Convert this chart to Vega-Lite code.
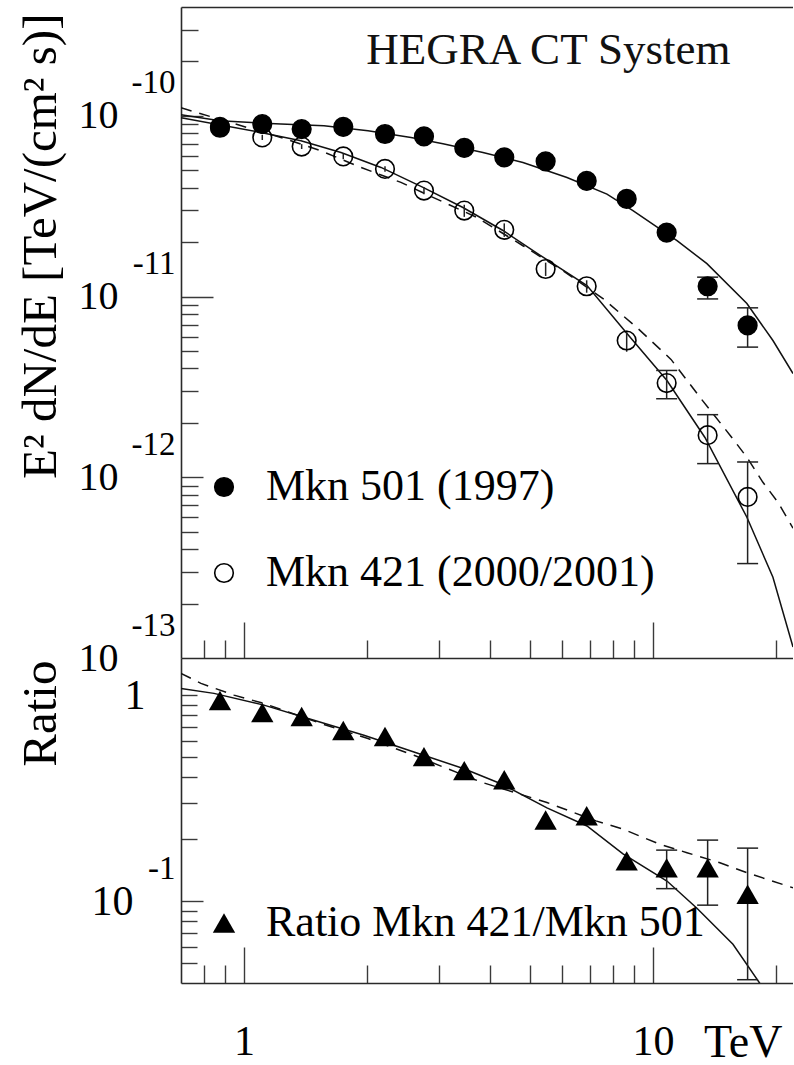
{
  "$schema": "https://vega.github.io/schema/vega-lite/v6.json",
  "background": "white",
  "padding": {"left": 16, "top": 7, "right": 0, "bottom": 0},
  "spacing": 0,
  "bounds": "flush",
  "config": {
    "view": {"stroke": null},
    "font": "Liberation Serif",
    "axis": {"grid": false, "domainColor": "#2a2a2a", "domainWidth": 1.6, "tickColor": "#3a3a3a", "tickWidth": 1.4, "labelFont": "Liberation Serif", "titleFont": "Liberation Serif", "labelColor": "#000", "titleColor": "#000", "titleFontWeight": "normal", "labelOverlap": false, "labelFlush": false, "labelBound": false, "labelLimit": 0},
    "legend": {"labelFont": "Liberation Serif", "labelColor": "#000", "labelLimit": 0}
  },
  "datasets": {
    "pts": [
      {"E": 0.8736, "series": "Mkn 421 (2000/2001)", "flux": 8.59e-11, "lo": 8.40e-11, "hi": 8.78e-11, "cap": false},
      {"E": 1.1086, "series": "Mkn 421 (2000/2001)", "flux": 7.59e-11, "lo": 7.35e-11, "hi": 7.83e-11, "cap": false},
      {"E": 1.3838, "series": "Mkn 421 (2000/2001)", "flux": 6.76e-11, "lo": 6.55e-11, "hi": 6.97e-11, "cap": false},
      {"E": 1.749, "series": "Mkn 421 (2000/2001)", "flux": 5.96e-11, "lo": 5.75e-11, "hi": 6.17e-11, "cap": false},
      {"E": 2.2122, "series": "Mkn 421 (2000/2001)", "flux": 5.08e-11, "lo": 4.90e-11, "hi": 5.26e-11, "cap": false},
      {"E": 2.7549, "series": "Mkn 421 (2000/2001)", "flux": 3.86e-11, "lo": 3.68e-11, "hi": 4.04e-11, "cap": false},
      {"E": 3.4566, "series": "Mkn 421 (2000/2001)", "flux": 2.99e-11, "lo": 2.76e-11, "hi": 3.22e-11, "cap": false},
      {"E": 4.3293, "series": "Mkn 421 (2000/2001)", "flux": 2.34e-11, "lo": 2.14e-11, "hi": 2.54e-11, "cap": false},
      {"E": 5.4653, "series": "Mkn 421 (2000/2001)", "flux": 1.42e-11, "lo": 1.30e-11, "hi": 1.54e-11, "cap": false},
      {"E": 6.8855, "series": "Mkn 421 (2000/2001)", "flux": 1.14e-11, "lo": 1.05e-11, "hi": 1.23e-11, "cap": false},
      {"E": 8.6249, "series": "Mkn 421 (2000/2001)", "flux": 5.71e-12, "lo": 4.95e-12, "hi": 6.47e-12, "cap": false},
      {"E": 10.802, "series": "Mkn 421 (2000/2001)", "flux": 3.32e-12, "lo": 2.72e-12, "hi": 3.90e-12, "cap": true},
      {"E": 13.605, "series": "Mkn 421 (2000/2001)", "flux": 1.71e-12, "lo": 1.19e-12, "hi": 2.22e-12, "cap": true},
      {"E": 17.039, "series": "Mkn 421 (2000/2001)", "flux": 7.78e-13, "lo": 3.33e-13, "hi": 1.215e-12, "cap": true},
      {"E": 0.8736, "series": "Mkn 501 (1997)", "flux": 8.69e-11, "lo": 8.54e-11, "hi": 8.84e-11, "cap": false},
      {"E": 1.1086, "series": "Mkn 501 (1997)", "flux": 9.0e-11, "lo": 8.85e-11, "hi": 9.15e-11, "cap": false},
      {"E": 1.3838, "series": "Mkn 501 (1997)", "flux": 8.45e-11, "lo": 8.30e-11, "hi": 8.60e-11, "cap": false},
      {"E": 1.749, "series": "Mkn 501 (1997)", "flux": 8.69e-11, "lo": 8.54e-11, "hi": 8.84e-11, "cap": false},
      {"E": 2.2122, "series": "Mkn 501 (1997)", "flux": 7.93e-11, "lo": 7.78e-11, "hi": 8.08e-11, "cap": false},
      {"E": 2.7549, "series": "Mkn 501 (1997)", "flux": 7.69e-11, "lo": 7.54e-11, "hi": 7.84e-11, "cap": false},
      {"E": 3.4566, "series": "Mkn 501 (1997)", "flux": 6.64e-11, "lo": 6.50e-11, "hi": 6.78e-11, "cap": false},
      {"E": 4.3293, "series": "Mkn 501 (1997)", "flux": 5.89e-11, "lo": 5.75e-11, "hi": 6.03e-11, "cap": false},
      {"E": 5.4653, "series": "Mkn 501 (1997)", "flux": 5.60e-11, "lo": 5.45e-11, "hi": 5.75e-11, "cap": false},
      {"E": 6.8855, "series": "Mkn 501 (1997)", "flux": 4.36e-11, "lo": 4.22e-11, "hi": 4.50e-11, "cap": false},
      {"E": 8.6249, "series": "Mkn 501 (1997)", "flux": 3.47e-11, "lo": 3.33e-11, "hi": 3.61e-11, "cap": false},
      {"E": 10.802, "series": "Mkn 501 (1997)", "flux": 2.26e-11, "lo": 2.14e-11, "hi": 2.38e-11, "cap": false},
      {"E": 13.605, "series": "Mkn 501 (1997)", "flux": 1.14e-11, "lo": 9.7e-12, "hi": 1.28e-11, "cap": true},
      {"E": 17.039, "series": "Mkn 501 (1997)", "flux": 6.92e-12, "lo": 5.25e-12, "hi": 8.66e-12, "cap": true}
    ],
    "fit": [
      {"E": 0.7015, "flux": 1.013e-10, "curve": "Mkn 501 fit"},
      {"E": 0.8736, "flux": 9.38e-11, "curve": "Mkn 501 fit"},
      {"E": 1.231, "flux": 9.0e-11, "curve": "Mkn 501 fit"},
      {"E": 1.569, "flux": 8.81e-11, "curve": "Mkn 501 fit"},
      {"E": 2.010, "flux": 8.26e-11, "curve": "Mkn 501 fit"},
      {"E": 2.561, "flux": 7.59e-11, "curve": "Mkn 501 fit"},
      {"E": 3.066, "flux": 7.00e-11, "curve": "Mkn 501 fit"},
      {"E": 3.840, "flux": 6.27e-11, "curve": "Mkn 501 fit"},
      {"E": 4.810, "flux": 5.52e-11, "curve": "Mkn 501 fit"},
      {"E": 6.163, "flux": 4.56e-11, "curve": "Mkn 501 fit"},
      {"E": 7.718, "flux": 3.69e-11, "curve": "Mkn 501 fit"},
      {"E": 8.934, "flux": 2.99e-11, "curve": "Mkn 501 fit"},
      {"E": 11.45, "flux": 2.04e-11, "curve": "Mkn 501 fit"},
      {"E": 13.55, "flux": 1.52e-11, "curve": "Mkn 501 fit"},
      {"E": 16.97, "flux": 9.15e-12, "curve": "Mkn 501 fit"},
      {"E": 19.65, "flux": 5.71e-12, "curve": "Mkn 501 fit"},
      {"E": 22.0, "flux": 3.75e-12, "curve": "Mkn 501 fit"},
      {"E": 0.7015, "flux": 9.75e-11, "curve": "Mkn 421 fit"},
      {"E": 1.100, "flux": 8.09e-11, "curve": "Mkn 421 fit"},
      {"E": 1.378, "flux": 7.28e-11, "curve": "Mkn 421 fit"},
      {"E": 1.727, "flux": 6.27e-11, "curve": "Mkn 421 fit"},
      {"E": 2.163, "flux": 5.18e-11, "curve": "Mkn 421 fit"},
      {"E": 2.740, "flux": 4.02e-11, "curve": "Mkn 421 fit"},
      {"E": 3.431, "flux": 3.11e-11, "curve": "Mkn 421 fit"},
      {"E": 4.298, "flux": 2.32e-11, "curve": "Mkn 421 fit"},
      {"E": 5.384, "flux": 1.65e-11, "curve": "Mkn 421 fit"},
      {"E": 6.898, "flux": 1.15e-11, "curve": "Mkn 421 fit"},
      {"E": 8.639, "flux": 6.25e-12, "curve": "Mkn 421 fit"},
      {"E": 10.82, "flux": 3.43e-12, "curve": "Mkn 421 fit"},
      {"E": 13.40, "flux": 1.66e-12, "curve": "Mkn 421 fit"},
      {"E": 16.97, "flux": 6.01e-13, "curve": "Mkn 421 fit"},
      {"E": 19.65, "flux": 2.80e-13, "curve": "Mkn 421 fit"},
      {"E": 22.0, "flux": 1.15e-13, "curve": "Mkn 421 fit"},
      {"E": 0.7015, "flux": 1.107e-10, "curve": "Mkn 421 dashed"},
      {"E": 0.8786, "flux": 9.51e-11, "curve": "Mkn 421 dashed"},
      {"E": 1.231, "flux": 7.59e-11, "curve": "Mkn 421 dashed"},
      {"E": 1.543, "flux": 6.40e-11, "curve": "Mkn 421 dashed"},
      {"E": 1.932, "flux": 5.18e-11, "curve": "Mkn 421 dashed"},
      {"E": 2.420, "flux": 4.28e-11, "curve": "Mkn 421 dashed"},
      {"E": 2.898, "flux": 3.54e-11, "curve": "Mkn 421 dashed"},
      {"E": 3.712, "flux": 2.74e-11, "curve": "Mkn 421 dashed"},
      {"E": 4.810, "flux": 1.91e-11, "curve": "Mkn 421 dashed"},
      {"E": 6.026, "flux": 1.39e-11, "curve": "Mkn 421 dashed"},
      {"E": 7.547, "flux": 9.75e-12, "curve": "Mkn 421 dashed"},
      {"E": 9.193, "flux": 6.65e-12, "curve": "Mkn 421 dashed"},
      {"E": 11.07, "flux": 4.49e-12, "curve": "Mkn 421 dashed"},
      {"E": 13.03, "flux": 2.77e-12, "curve": "Mkn 421 dashed"},
      {"E": 15.43, "flux": 1.71e-12, "curve": "Mkn 421 dashed"},
      {"E": 16.97, "flux": 1.29e-12, "curve": "Mkn 421 dashed"},
      {"E": 18.57, "flux": 9.38e-13, "curve": "Mkn 421 dashed"},
      {"E": 20.21, "flux": 7.28e-13, "curve": "Mkn 421 dashed"},
      {"E": 22.0, "flux": 5.23e-13, "curve": "Mkn 421 dashed"}
    ],
    "ratio": [
      {"E": 0.8736, "r": 0.945},
      {"E": 1.1086, "r": 0.826},
      {"E": 1.3838, "r": 0.790},
      {"E": 1.749, "r": 0.675},
      {"E": 2.2122, "r": 0.631},
      {"E": 2.7549, "r": 0.504},
      {"E": 3.4566, "r": 0.431},
      {"E": 4.3293, "r": 0.389},
      {"E": 5.4653, "r": 0.248},
      {"E": 6.8855, "r": 0.260},
      {"E": 8.6249, "r": 0.157},
      {"E": 10.802, "r": 0.145, "lo": 0.115, "hi": 0.177},
      {"E": 13.605, "r": 0.145, "lo": 0.0956, "hi": 0.198},
      {"E": 17.039, "r": 0.108, "lo": 0.0415, "hi": 0.181}
    ],
    "rfit": [
      {"E": 0.7015, "r": 1.082, "curve": "solid"},
      {"E": 0.8445, "r": 1.023, "curve": "solid"},
      {"E": 1.119, "r": 0.897, "curve": "solid"},
      {"E": 1.483, "r": 0.758, "curve": "solid"},
      {"E": 1.965, "r": 0.640, "curve": "solid"},
      {"E": 2.604, "r": 0.531, "curve": "solid"},
      {"E": 3.451, "r": 0.440, "curve": "solid"},
      {"E": 4.249, "r": 0.372, "curve": "solid"},
      {"E": 5.506, "r": 0.284, "curve": "solid"},
      {"E": 6.898, "r": 0.232, "curve": "solid"},
      {"E": 8.447, "r": 0.1696, "curve": "solid"},
      {"E": 10.82, "r": 0.1252, "curve": "solid"},
      {"E": 12.81, "r": 0.0924, "curve": "solid"},
      {"E": 15.69, "r": 0.0617, "curve": "solid"},
      {"E": 18.26, "r": 0.0398, "curve": "solid"},
      {"E": 18.6, "r": 0.037, "curve": "solid"},
      {"E": 0.7015, "r": 1.280, "curve": "dashed"},
      {"E": 0.785, "r": 1.144, "curve": "dashed"},
      {"E": 0.9453, "r": 1.003, "curve": "dashed"},
      {"E": 1.119, "r": 0.914, "curve": "dashed"},
      {"E": 1.543, "r": 0.730, "curve": "dashed"},
      {"E": 2.010, "r": 0.617, "curve": "dashed"},
      {"E": 2.604, "r": 0.5114, "curve": "dashed"},
      {"E": 3.797, "r": 0.3793, "curve": "dashed"},
      {"E": 5.506, "r": 0.3016, "curve": "dashed"},
      {"E": 7.254, "r": 0.2456, "curve": "dashed"},
      {"E": 8.447, "r": 0.2238, "curve": "dashed"},
      {"E": 10.40, "r": 0.1890, "curve": "dashed"},
      {"E": 12.11, "r": 0.1720, "curve": "dashed"},
      {"E": 14.58, "r": 0.1537, "curve": "dashed"},
      {"E": 16.97, "r": 0.1374, "curve": "dashed"},
      {"E": 22.0, "r": 0.1161, "curve": "dashed"}
    ]
  },
  "resolve": {"scale": {"fill": "independent", "shape": "independent"}, "legend": {"fill": "independent", "shape": "independent"}},
  "vconcat": [
    {
      "width": 612,
      "height": 651,
      "resolve": {"axis": {"x": "independent", "y": "independent"}},
      "layer": [
        {
          "data": {"name": "fit"},
          "transform": [{"filter": "datum.curve != 'Mkn 421 dashed'"}],
          "mark": {"type": "line", "color": "#111", "strokeWidth": 1.5, "clip": true},
          "encoding": {
            "x": {"field": "E", "type": "quantitative", "scale": {"type": "log", "domain": [0.7015, 22.0], "nice": false},
              "axis": {"orient": "bottom", "values": [0.8, 0.9, 1, 2, 3, 4, 5, 6, 7, 8, 9, 10, 20], "labels": false, "title": null, "domain": true,
                "tickSize": {"condition": {"test": "datum.value == 1 || datum.value == 10", "value": -36}, "value": -18}}},
            "y": {"field": "flux", "type": "quantitative", "scale": {"type": "log", "domain": [1e-13, 4e-10], "nice": false},
              "axis": {"orient": "left", "values": [2e-13, 3e-13, 4e-13, 5e-13, 6e-13, 7e-13, 8e-13, 9e-13, 1e-12, 2e-12, 3e-12, 4e-12, 5e-12, 6e-12, 7e-12, 8e-12, 9e-12, 1e-11, 2e-11, 3e-11, 4e-11, 5e-11, 6e-11, 7e-11, 8e-11, 9e-11, 1e-10, 2e-10, 3e-10], "labels": false, "title": null, "domain": true,
                "tickSize": {"condition": [{"test": "datum.value == 1e-11", "value": -32}, {"test": "datum.value == 1e-12 || datum.value == 1e-10", "value": -22}], "value": -17}}},
            "detail": {"field": "curve", "type": "nominal"}
          }
        },
        {
          "data": {"name": "fit"},
          "transform": [{"filter": "datum.curve == 'Mkn 421 dashed'"}],
          "mark": {"type": "line", "color": "#111", "strokeWidth": 1.5, "strokeDash": [11, 8], "clip": true},
          "encoding": {
            "x": {"field": "E", "type": "quantitative", "axis": {"orient": "top", "domain": true, "ticks": false, "labels": false, "title": null}},
            "y": {"field": "flux", "type": "quantitative",
              "axis": {"orient": "left", "values": [1e-13, 1e-12, 1e-11, 1e-10], "ticks": false, "domain": false, "labelExpr": "'10'", "labelFontSize": 40, "labelPadding": 63, "labelAlign": "right", "labelBaseline": "middle",
                "title": "E² dN/dE [TeV/(cm² s)]", "titleFontSize": 49, "titleAngle": 270, "titleX": -126, "titleY": 6, "titleAlign": "right", "titleBaseline": "alphabetic"}}
          }
        },
        {
          "data": {"name": "pts"},
          "mark": {"type": "rule", "color": "#222", "strokeWidth": 1.5},
          "encoding": {
            "x": {"field": "E", "type": "quantitative", "axis": null},
            "y": {"field": "lo", "type": "quantitative",
              "axis": {"orient": "left", "values": [1e-13, 1e-12, 1e-11, 1e-10], "ticks": false, "domain": false, "labelExpr": "'' + round(log(datum.value) / LN10)", "labelFontSize": 33, "labelPadding": 6, "labelOffset": -33, "labelAlign": "right", "labelBaseline": "middle", "title": null}},
            "y2": {"field": "hi"}
          }
        },
        {
          "data": {"name": "pts"},
          "transform": [{"filter": "datum.cap"}, {"fold": ["lo", "hi"], "as": ["end", "v"]}],
          "mark": {"type": "tick", "orient": "horizontal", "size": 21, "thickness": 1.5, "color": "#222", "opacity": 1},
          "encoding": {
            "x": {"field": "E", "type": "quantitative", "axis": null},
            "y": {"field": "v", "type": "quantitative", "axis": null}
          }
        },
        {
          "data": {"name": "pts"},
          "mark": {"type": "point", "shape": "circle", "filled": true, "size": 346, "stroke": "#000", "strokeWidth": 1.6, "opacity": 1},
          "encoding": {
            "x": {"field": "E", "type": "quantitative", "axis": null},
            "y": {"field": "flux", "type": "quantitative", "axis": null},
            "fill": {"field": "series", "type": "nominal", "scale": {"domain": ["Mkn 501 (1997)", "Mkn 421 (2000/2001)"], "range": ["#000000", "rgba(0,0,0,0)"]},
              "legend": {"orient": "none", "legendX": 21, "legendY": 458, "title": null, "labelFontSize": 44, "symbolSize": 346, "symbolType": "circle", "symbolStrokeColor": "#000", "symbolStrokeWidth": 1.6, "symbolOpacity": 1, "labelOffset": 20, "rowPadding": 42, "padding": 0, "direction": "vertical"}}
          }
        },
        {
          "data": {"values": [{}]},
          "mark": {"type": "text", "text": "HEGRA CT System", "fontSize": 45, "font": "Liberation Serif", "align": "center", "baseline": "alphabetic", "color": "#111"},
          "encoding": {
            "x": {"datum": 5.553, "type": "quantitative", "axis": null},
            "y": {"datum": 1.94e-10, "type": "quantitative", "axis": null}
          }
        }
      ]
    },
    {
      "width": 612,
      "height": 325,
      "resolve": {"axis": {"x": "independent", "y": "independent"}},
      "layer": [
        {
          "data": {"name": "rfit"},
          "transform": [{"filter": "datum.curve == 'solid'"}],
          "mark": {"type": "line", "color": "#111", "strokeWidth": 1.5, "clip": true},
          "encoding": {
            "x": {"field": "E", "type": "quantitative", "scale": {"type": "log", "domain": [0.7015, 22.0], "nice": false},
              "axis": {"orient": "bottom", "values": [0.8, 0.9, 1, 2, 3, 4, 5, 6, 7, 8, 9, 10, 20], "labels": false, "title": null, "domain": true,
                "tickSize": {"condition": {"test": "datum.value == 1 || datum.value == 10", "value": -36}, "value": -18}}},
            "y": {"field": "r", "type": "quantitative", "scale": {"type": "log", "domain": [0.04, 1.52], "nice": false},
              "axis": {"orient": "left", "values": [0.05, 0.06, 0.07, 0.08, 0.09, 0.1, 0.2, 0.3, 0.4, 0.5, 0.6, 0.7, 0.8, 0.9, 1], "labels": false, "title": null, "domain": true,
                "tickSize": {"condition": {"test": "datum.value == 0.1", "value": -22}, "value": -16}}}
          }
        },
        {
          "data": {"name": "rfit"},
          "transform": [{"filter": "datum.curve == 'dashed'"}],
          "mark": {"type": "line", "color": "#111", "strokeWidth": 1.5, "strokeDash": [11, 8], "clip": true},
          "encoding": {
            "x": {"field": "E", "type": "quantitative",
              "axis": {"orient": "bottom", "values": [1, 10], "ticks": false, "domain": false, "labelExpr": "datum.value < 5 ? '1' : '10'", "labelFontSize": 42, "labelPadding": 38, "labelBaseline": "top",
                "title": "TeV", "titleFontSize": 46, "titleX": 601, "titleY": 73, "titleAlign": "right", "titleBaseline": "alphabetic", "titleAngle": 0}},
            "y": {"field": "r", "type": "quantitative",
              "axis": {"orient": "left", "values": [0.1, 1], "ticks": false, "domain": false, "labelExpr": "datum.value > 0.5 ? '1' : '10'", "labelFontSize": 42, "labelPadding": {"condition": {"test": "datum.value > 0.5", "value": 36}, "value": 48}, "labelAlign": "right", "labelBaseline": "middle",
                "title": "Ratio", "titleFontSize": 49, "titleAngle": 270, "titleX": -126, "titleY": 2, "titleAlign": "right", "titleBaseline": "alphabetic"}}
          }
        },
        {
          "data": {"name": "ratio"},
          "transform": [{"filter": "isValid(datum.lo)"}],
          "mark": {"type": "rule", "color": "#222", "strokeWidth": 1.5},
          "encoding": {
            "x": {"field": "E", "type": "quantitative", "axis": null},
            "y": {"field": "lo", "type": "quantitative",
              "axis": {"orient": "left", "values": [0.1], "ticks": false, "domain": false, "labelExpr": "'-1'", "labelFontSize": 33, "labelPadding": 6, "labelOffset": -33, "labelAlign": "right", "labelBaseline": "middle", "title": null}},
            "y2": {"field": "hi"}
          }
        },
        {
          "data": {"name": "ratio"},
          "transform": [{"filter": "isValid(datum.lo)"}, {"fold": ["lo", "hi"], "as": ["end", "v"]}],
          "mark": {"type": "tick", "orient": "horizontal", "size": 21, "thickness": 1.5, "color": "#222", "opacity": 1},
          "encoding": {
            "x": {"field": "E", "type": "quantitative", "axis": null},
            "y": {"field": "v", "type": "quantitative", "axis": null}
          }
        },
        {
          "data": {"name": "ratio"},
          "mark": {"type": "point", "filled": true, "size": 500, "color": "#000", "opacity": 1},
          "encoding": {
            "x": {"field": "E", "type": "quantitative", "axis": null},
            "y": {"field": "r", "type": "quantitative", "axis": null},
            "shape": {"datum": "Ratio Mkn 421/Mkn 501", "scale": {"range": ["triangle-up"]},
              "legend": {"orient": "none", "legendX": 21, "legendY": 243, "title": null, "labelFontSize": 44, "symbolSize": 500, "symbolFillColor": "#000", "symbolStrokeColor": "#000", "symbolStrokeWidth": 0, "symbolOpacity": 1, "labelOffset": 20, "padding": 0}}
          }
        }
      ]
    }
  ]
}
